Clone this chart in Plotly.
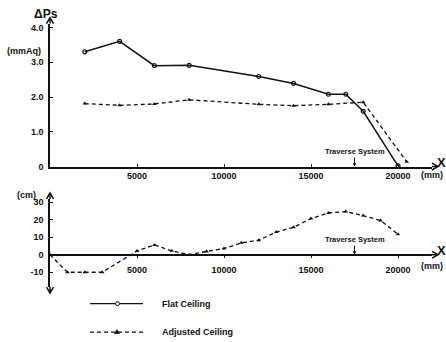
import plotly.graph_objects as go

# ---------------- data ----------------
flat_x = [2000, 4000, 6000, 8000, 12000, 14000, 16000, 17000, 18000, 20000]
flat_dps = [3.30, 3.60, 2.90, 2.91, 2.59, 2.39, 2.08, 2.08, 1.59, 0.02]

adj_x = [2000, 4000, 6000, 8000, 12000, 14000, 16000, 18000, 20500]
adj_dps = [1.81, 1.76, 1.80, 1.92, 1.79, 1.75, 1.79, 1.85, 0.14]

ceil_x = [0, 1000, 2000, 3000, 5000, 6000, 7000, 8000, 9000, 10000, 11000,
          12000, 13000, 14000, 15000, 16000, 17000, 18000, 19000, 20000]
ceil_cm = [0, -10, -10, -10, 2.1, 5.6, 2.2, 0, 1.9, 3.5, 6.8,
           8.3, 12.9, 15.7, 20.6, 23.8, 24.6, 22.3, 19.5, 11.7]

x_ticks = [5000, 10000, 15000, 20000]
x_tick_text = ["5000", "10000", "15000", "20000"]
top_y_ticks = [0, 1, 2, 3, 4]
top_y_text = ["0", "1.0", "2.0", "3.0", "4.0"]
bot_y_ticks = [-10, 0, 10, 20, 30]
bot_y_text = ["-10", "0", "10", "20", "30"]
traverse_x = 17500

# ---------------- layout helpers ----------------
W, H = 446, 342
def PX(x):
    return x / W
def PY(y):
    return 1 - y / H

INK = "#111111"
FONT = "Arial"

fig = go.Figure()

fig.add_trace(go.Scatter(
    x=flat_x, y=flat_dps, mode="lines+markers", name="Flat Ceiling",
    line=dict(color=INK, width=1.5),
    marker=dict(symbol="circle-open", size=4, color=INK, line=dict(width=1.2)),
    cliponaxis=False, xaxis="x", yaxis="y", showlegend=False))
fig.add_trace(go.Scatter(
    x=adj_x, y=adj_dps, mode="lines+markers", name="Adjusted Ceiling",
    line=dict(color=INK, width=1.3, dash="4px,3px"),
    marker=dict(symbol="triangle-up", size=4, color=INK),
    cliponaxis=False, xaxis="x", yaxis="y", showlegend=False))
fig.add_trace(go.Scatter(
    x=ceil_x, y=ceil_cm, mode="lines+markers", name="Adjusted Ceiling height",
    line=dict(color=INK, width=1.3, dash="4px,3px"),
    marker=dict(symbol="triangle-up", size=4, color=INK),
    cliponaxis=False, xaxis="x2", yaxis="y2", showlegend=False))

x_left, x_right = 50, 432
mm_per_px = 5000 / 87
x_range = [(x_left - 50) * mm_per_px, (x_right - 50) * mm_per_px]

top_base, top_top = 168, 22
top_scale = 35.5
bot_base, bot_top, bot_bot = 258, 201, 291
bot_scale = 1.79

tickfont = dict(family=FONT, size=9, color=INK, weight="bold")

axis_common = dict(showgrid=False, zeroline=False, showline=True,
                   linecolor=INK, linewidth=1.5, tickcolor=INK,
                   tickfont=tickfont)

fig.update_layout(
    width=W, height=H, autosize=False,
    margin=dict(l=0, r=0, t=0, b=0),
    paper_bgcolor="white", plot_bgcolor="white",
    showlegend=False,
    xaxis=dict(domain=[PX(x_left), PX(x_right)], range=x_range, anchor="y",
               tickvals=x_ticks, ticktext=x_tick_text, ticks="inside",
               ticklen=3, **axis_common),
    yaxis=dict(domain=[PY(top_base), PY(top_top)],
               range=[0, (top_base - top_top) / top_scale], anchor="x",
               tickvals=top_y_ticks, ticktext=top_y_text, ticks="inside",
               ticklen=3, ticklabelstandoff=3, **axis_common),
    xaxis2=dict(domain=[PX(x_left), PX(x_right)], range=x_range,
                anchor="free", position=PY(bot_base),
                tickvals=x_ticks, ticktext=x_tick_text, ticks="outside",
                ticklen=3, ticklabelstandoff=4, **axis_common),
    xaxis3=dict(domain=[PX(x_left), PX(x_right)], range=x_range,
                anchor="free", position=PY(bot_base), overlaying="x2",
                tickvals=x_ticks, ticks="inside", ticklen=3,
                showticklabels=False, showgrid=False, zeroline=False,
                showline=False, tickcolor=INK),
    yaxis2=dict(domain=[PY(bot_bot), PY(bot_top)],
                range=[-(bot_bot - bot_base) / bot_scale,
                       (bot_base - bot_top) / bot_scale],
                anchor="x2", tickvals=bot_y_ticks, ticktext=bot_y_text,
                ticks="inside", ticklen=3, ticklabelstandoff=3,
                **axis_common),
)

shapes = []
def seg(x0, y0, x1, y1, dash=None, width=1.5):
    shapes.append(dict(type="line", xref="paper", yref="paper",
                       x0=PX(x0), y0=PY(y0), x1=PX(x1), y1=PY(y1),
                       line=dict(color=INK, width=width,
                                 dash=dash if dash else "solid")))

def chevron(pts):
    path = "M " + " L ".join(f"{PX(a)},{PY(b)}" for a, b in pts)
    shapes.append(dict(type="path", xref="paper", yref="paper", path=path,
                       line=dict(color=INK, width=1.5)))

# top x arrow
seg(x_right, top_base, 438, top_base)
chevron([(432, top_base - 3.5), (438, top_base), (432, top_base + 3.5)])
# top y arrow
seg(x_left, top_top, x_left, 16)
chevron([(46.5, 22), (x_left, 16), (53.5, 22)])
# bottom x arrow
seg(x_right, bot_base, 438, bot_base)
chevron([(432, bot_base - 3.5), (438, bot_base), (432, bot_base + 3.5)])
# bottom y arrows
seg(x_left, bot_top, x_left, 195)
chevron([(46.5, 201), (x_left, 195), (53.5, 201)])
seg(x_left, bot_bot, x_left, 297)
chevron([(46.5, 291), (x_left, 297), (53.5, 291)])

# legend samples
seg(90, 308, 143, 308, width=1.3)
seg(90, 337, 143, 337, dash="4px,3px", width=1.2)
shapes.append(dict(type="circle", xref="paper", yref="paper",
                   x0=PX(115.5), x1=PX(119.5), y0=PY(306), y1=PY(310),
                   line=dict(color=INK, width=1), fillcolor="white"))
shapes.append(dict(type="path", xref="paper", yref="paper",
                   path=f"M {PX(117)},{PY(334.5)} L {PX(119.5)},{PY(338.5)} L {PX(114.5)},{PY(338.5)} Z",
                   line=dict(color=INK, width=0.8), fillcolor=INK))

fig.update_layout(shapes=shapes)

def label(text, x, y, size=9, xanchor="center", bold=True):
    fig.add_annotation(text=text, xref="paper", yref="paper",
                       x=PX(x), y=PY(y), xanchor=xanchor, yanchor="middle",
                       showarrow=False,
                       font=dict(family=FONT, size=size, color=INK,
                                 weight="bold" if bold else "normal"))

label("ΔPs", 46, 12, size=12)
label("(mmAq)", 24, 50, size=9)
label("X", 441, 164, size=13)
label("(mm)", 445, 177, size=9, xanchor="right")
label("(cm)", 26, 197, size=9)
label("X", 441, 254, size=13)
label("(mm)", 445, 270, size=9, xanchor="right")
label("Flat Ceiling", 160, 308, size=9, xanchor="left")
label("Adjusted Ceiling", 160, 337, size=9, xanchor="left")

for xa, ya, base in (("x", "y", 0), ("x2", "y2", 0)):
    fig.add_annotation(text="Traverse System", x=traverse_x, y=base,
                       xref=xa, yref=ya, showarrow=True, ax=0, ay=-9,
                       arrowhead=2, arrowsize=0.7, arrowwidth=1,
                       arrowcolor=INK, standoff=0, yanchor="bottom",
                       font=dict(family=FONT, size=7.5, color=INK,
                                 weight="bold"))

fig.write_html("out.html")
